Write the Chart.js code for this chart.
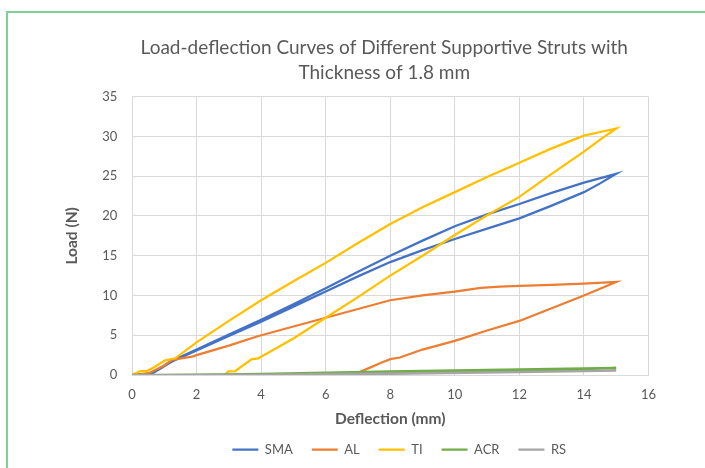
<!DOCTYPE html>
<html>
<head>
<meta charset="utf-8">
<script src="https://cdn.jsdelivr.net/npm/chart.js@4/dist/chart.umd.min.js"></script>
<style>
  body { margin: 0; background: #fff; overflow: hidden; }
  #frame {
    position: absolute; left: 6px; top: 11px;
    width: 760px; height: 520px;
    border: 2px solid #80cf96;
  }
  #wrap { position: absolute; left: 0; top: 0; width: 705px; height: 468px; }
</style>
</head>
<body>
<div id="frame"></div>
<div id="wrap"><canvas id="chartLoad"></canvas></div>
<script>
// Load-deflection loops: loading branch then unloading branch (mm, N)
const smaX = [0, 0.3, 0.67, 1.0, 1.24, 2, 3, 4, 5, 6, 7, 8, 9, 10, 11, 12, 13, 14, 15,
              14.5, 14, 13, 12, 11, 10, 9, 8, 7, 6, 5, 4, 3, 2, 1.24, 0.67, 0.3];
const smaY = [0, 0.05, 0.3, 1.2, 1.8, 3.2, 5.1, 6.95, 8.9, 10.9, 13.0, 15.0, 16.9, 18.7, 20.2, 21.5, 22.9, 24.2, 25.3,
              24.1, 23.0, 21.3, 19.7, 18.4, 17.1, 15.7, 14.2, 12.4, 10.5, 8.6, 6.7, 4.9, 3.1, 1.7, 0.3, 0];

const alX = [0, 0.5, 1.0, 1.24, 1.86, 2, 3, 3.92, 5, 6, 7, 8, 9, 10, 10.8, 11.4, 12, 13, 14, 15,
             14, 13, 12, 11, 10, 9, 8.3, 8, 7.7, 7.3, 6.85, 6.2];
const alY = [0, 0.2, 1.2, 1.9, 2.3, 2.5, 3.7, 4.9, 6.1, 7.2, 8.3, 9.4, 10.0, 10.5, 10.95, 11.1, 11.2, 11.35, 11.5, 11.7,
             10.0, 8.4, 6.8, 5.6, 4.3, 3.2, 2.2, 2.0, 1.5, 0.8, 0, 0];

const tiX = [0, 0.26, 0.46, 0.7, 1.03, 1.34, 2, 3, 4, 5, 6, 7, 8, 9, 10, 11, 12, 13, 14, 15,
             14.5, 14, 13, 12, 11, 10, 9, 8, 7, 6, 5, 4, 3.92, 3.71, 3.2, 2.99, 2.86];
const tiY = [0, 0.5, 0.5, 1.0, 1.85, 2.1, 4.1, 6.8, 9.4, 11.8, 14.1, 16.6, 19.0, 21.1, 23.0, 24.9, 26.7, 28.5, 30.1, 31.0,
             29.6, 28.1, 25.3, 22.4, 20.1, 17.6, 15.0, 12.5, 9.8, 7.2, 4.6, 2.3, 2.1, 2.0, 0.5, 0.45, 0];

const acrX = [0, 2, 4, 6, 8, 10, 12, 14, 15, 14, 12, 10, 8, 6, 4, 2, 0];
const acrY = [0, 0.05, 0.15, 0.3, 0.45, 0.58, 0.7, 0.82, 0.9, 0.72, 0.58, 0.45, 0.33, 0.2, 0.1, 0.03, 0];

const rsX = [0, 4, 8, 12, 15, 12, 8, 4, 0];
const rsY = [0, 0.05, 0.2, 0.4, 0.55, 0.35, 0.15, 0.02, 0];

const toPoints = (xs, ys) => xs.map((x, i) => ({ x: x, y: ys[i] }));

const grey = "#595959";
const gridColor = "#d9d9d9";

function series(label, xs, ys, color, order) {
  return {
    label: label,
    data: toPoints(xs, ys),
    borderColor: color,
    backgroundColor: color,
    borderWidth: 2.25,
    showLine: true,
    pointRadius: 0,
    tension: 0,
    order: order
  };
}

// nudge title and legend sideways, the way the original sits off-centre
const nudgeBoxes = {
  id: "nudgeBoxes",
  afterLayout(chart) {
    if (chart.titleBlock) { chart.titleBlock.left -= 6; chart.titleBlock.right -= 6; }
    if (chart.legend) { chart.legend.left += 9; chart.legend.right += 9; }
  }
};

const ctx = document.getElementById("chartLoad").getContext("2d");
new Chart(ctx, {
  type: "scatter",
  data: {
    datasets: [
      series("SMA", smaX, smaY, "#4472c4", 5),
      series("AL", alX, alY, "#ed7d31", 4),
      series("TI", tiX, tiY, "#ffc000", 3),
      series("ACR", acrX, acrY, "#70ad47", 2),
      series("RS", rsX, rsY, "#a5a5a5", 1)
    ]
  },
  plugins: [nudgeBoxes],
  options: {
    responsive: true,
    maintainAspectRatio: false,
    animation: false,
    layout: { padding: { left: 0, right: 56.5, top: 0, bottom: 2 } },
    plugins: {
      tooltip: { enabled: false },
      title: {
        display: true,
        fullSize: false,
        text: ["Load-deflection Curves of Different Supportive Struts with", "Thickness of 1.8 mm"],
        color: grey,
        font: { family: "Lato", size: 19, weight: "normal", lineHeight: "25px" },
        padding: { top: 35.5, bottom: 11.2 }
      },
      legend: {
        display: true,
        position: "bottom",
        fullSize: false,
        labels: {
          color: grey,
          font: { family: "Lato", size: 13 },
          usePointStyle: true,
          pointStyle: "line",
          pointStyleWidth: 26,
          padding: 19,
          sort: (a, b) => a.datasetIndex - b.datasetIndex
        }
      }
    },
    scales: {
      x: {
        type: "linear",
        min: 0,
        max: 16,
        afterFit: (scale) => { scale.height = 49; },
        grid: { color: gridColor, drawTicks: false },
        border: { color: gridColor },
        ticks: { stepSize: 2, color: grey, font: { family: "Lato", size: 13 }, padding: 12 },
        title: {
          display: true,
          text: "Deflection (mm)",
          color: grey,
          font: { family: "Lato", size: 15.5, weight: "bold", lineHeight: "10px" },
          padding: 0
        }
      },
      y: {
        min: 0,
        max: 35,
        afterFit: (scale) => { scale.width = 132; },
        grid: { color: gridColor, drawTicks: false },
        border: { color: gridColor },
        ticks: { stepSize: 5, color: grey, font: { family: "Lato", size: 13 }, padding: 14.7 },
        title: {
          display: true,
          text: "Load (N)",
          color: grey,
          font: { family: "Lato", size: 15.5, weight: "bold" },
          padding: { top: 62.7, bottom: 0 }
        }
      }
    }
  }
});
</script>
</body>
</html>
